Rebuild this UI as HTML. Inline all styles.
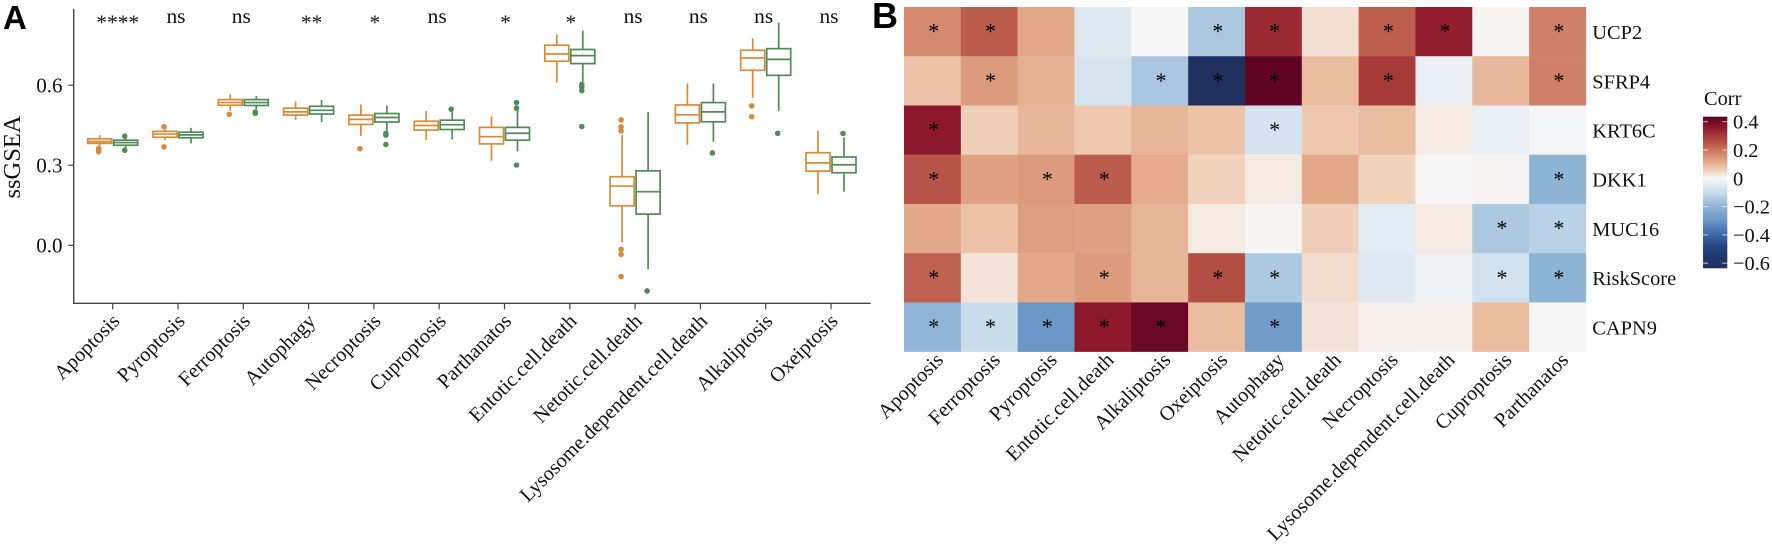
<!DOCTYPE html>
<html lang="en">
<head>
<meta charset="utf-8">
<title>ssGSEA boxplots and correlation heatmap</title>
<style>
html,body{margin:0;padding:0;background:#fff;width:1772px;height:551px;overflow:hidden}
svg{display:block}
text{font-family:"Liberation Serif",serif;fill:#111}
.panel{font-family:"Liberation Sans",sans-serif;font-weight:700;fill:#000}
</style>
</head>
<body>
<svg id="fig" width="1772" height="551" viewBox="0 0 1772 551" xmlns="http://www.w3.org/2000/svg">
<defs><linearGradient id="corrGrad" x1="0" y1="0" x2="0" y2="1"></linearGradient></defs>
<text class="panel" x="3" y="29" font-size="33">A</text>
<text class="panel" x="872" y="28" font-size="36">B</text>
<text transform="translate(20 157) rotate(-90)" text-anchor="middle" font-size="24.5">ssGSEA</text>
<text x="1704" y="105" font-size="20.4">Corr</text>
</svg>
<script>
// Panel A data
const boxCategories = ["Apoptosis","Pyroptosis","Ferroptosis","Autophagy","Necroptosis","Cuproptosis","Parthanatos","Entotic.cell.death","Netotic.cell.death","Lysosome.dependent.cell.death","Alkaliptosis","Oxeiptosis"];
const sigLabels = ["****","ns","ns","**","*","ns","*","*","ns","ns","ns","ns"];
const yTicks = [0, 0.3, 0.6];
const orangeLow = [.372,.394,.504,.470,.410,.394,.317,.610,.011,.377,.553,.191];
const orangeQ1 = [.382,.405,.525,.488,.453,.432,.380,.690,.148,.459,.656,.278];
const orangeMedian = [.389,.417,.535,.500,.472,.449,.407,.717,.222,.489,.702,.309];
const orangeQ3 = [.399,.427,.546,.514,.488,.465,.442,.750,.257,.526,.731,.347];
const orangeHigh = [.413,.434,.566,.539,.528,.503,.483,.790,.413,.606,.776,.430];
const orangeOutliers = [[.363,.357,.351],[.444,.369],[.491],[],[.362],[],[],[],[.470,.444,.429,-.015,-.034,-.117],[],[.523,.482],[]];
const greenLow = [.363,.382,.509,.462,.428,.397,.352,.6125,-.090,.388,.504,.201];
const greenQ1 = [.375,.403,.524,.492,.462,.434,.394,.681,.117,.463,.637,.272];
const greenMedian = [.385,.414,.535,.506,.479,.452,.420,.711,.201,.500,.697,.302];
const greenQ3 = [.394,.424,.546,.521,.494,.469,.442,.734,.279,.535,.737,.331];
const greenHigh = [.404,.440,.559,.545,.524,.500,.506,.805,.499,.606,.835,.404];
const greenOutliers = [[.409,.356],[],[.499,.495],[],[.419,.413,.378],[.510],[.535,.514,.301],[.603,.594,.580,.445],[-.171],[.346],[.420],[.419]];

// Panel B data
const heatGenes = ["UCP2","SFRP4","KRT6C","DKK1","MUC16","RiskScore","CAPN9"];
const heatPathways = ["Apoptosis","Ferroptosis","Pyroptosis","Entotic.cell.death","Alkaliptosis","Oxeiptosis","Autophagy","Netotic.cell.death","Necroptosis","Lysosome.dependent.cell.death","Cuproptosis","Parthanatos"];
const corrValues = [
 [.165,.24,.12,-.05,0,-.15,.33,.035,.235,.35,.005,.18],
 [.08,.14,.105,-.07,-.155,-.636,.425,.09,.30,-.03,.095,.18],
 [.36,.06,.10,.07,.10,.08,-.075,.07,.09,.02,-.03,-.005],
 [.255,.13,.14,.24,.115,.055,.02,.12,.055,0,.005,-.205],
 [.12,.08,.135,.13,.10,.02,.005,.06,-.04,.02,-.15,-.125],
 [.23,.03,.12,.14,.10,.265,-.145,.04,-.05,-.015,-.08,-.205],
 [-.2,-.1,-.3,.36,.41,.09,-.28,.03,.012,.01,.09,0]
];
const corrStars = [
 [1,1,0,0,0,1,1,0,1,1,0,1],
 [0,1,0,0,1,1,1,0,1,0,0,1],
 [1,0,0,0,0,0,1,0,0,0,0,0],
 [1,0,1,1,0,0,0,0,0,0,0,1],
 [0,0,0,0,0,0,0,0,0,0,1,1],
 [1,0,0,1,0,1,1,0,0,0,1,1],
 [1,1,1,1,1,0,1,0,0,0,0,0]
];
const legendTicks = [0.4,0.2,0,-0.2,-0.4,-0.6];
const colorStopValues = [.435,.36,.30,.24,.18,.12,.06,0,-.05,-.1,-.2,-.3,-.4,-.5,-.636];
const colorStopHex = ["#5a0022","#8e182b","#a63a38","#bc5c4c","#d08068","#e3a888","#f0cfb8","#f7f7f7","#dfe9f2","#c8dcec","#8fb4d6","#6a97c5","#3b68a8","#1f3f7c","#1f305e"];

const NS = "http://www.w3.org/2000/svg";
const svg = document.getElementById("fig");
function mk(tag, attrs, parent){
  const el = document.createElementNS(NS, tag);
  for (const k in attrs) el.setAttribute(k, attrs[k]);
  (parent || svg).appendChild(el);
  return el;
}
const ORANGE = "#d68c37", GREEN = "#4f8a57", AXIS = "#444";

// Panel A scales
const axisLeft = 73.7, axisRight = 870.7, axisBottom = 303.3, axisTop = 9;
const xBand = i => 112.7 + i * 65.3;
const yVal = v => 245.3 - v * 266.8;

const panelA = mk("g", {});



const yLine = mk("line", {x1:axisLeft,x2:axisLeft,y1:axisTop,y2:axisBottom+.6,stroke:AXIS,"stroke-width":1.4}, panelA);


const xLine = mk("line", {x1:axisLeft-.6,x2:axisRight,y1:axisBottom,y2:axisBottom,stroke:AXIS,"stroke-width":1.4}, panelA);



yTicks.forEach(t => {
  const tk = mk("line", {x1:axisLeft-5.5,x2:axisLeft,y1:yVal(t),y2:yVal(t),stroke:AXIS,"stroke-width":1.2}, panelA);
  
  
  const lb = mk("text", {x:62.5,y:yVal(t)+7.2,"text-anchor":"end","font-size":21}, panelA);
  
  
  lb.textContent = t.toFixed(1);
});

function drawBox(i, offset, color, low, q1, med, q3, high, outliers, seriesName){
  const cx = xBand(i) + offset, half = 12;
  const g = mk("g", {fill:"none",stroke:color,"stroke-width":1.7}, panelA);
  
  
  mk("line", {x1:cx,x2:cx,y1:yVal(high),y2:yVal(q3)}, g);
  mk("line", {x1:cx,x2:cx,y1:yVal(q1),y2:yVal(low)}, g);
  mk("rect", {x:cx-half,y:yVal(q3),width:half*2,height:yVal(q1)-yVal(q3)}, g);
  mk("line", {x1:cx-half,x2:cx+half,y1:yVal(med),y2:yVal(med)}, g);
  outliers.forEach(o => {
    mk("circle", {cx:cx-1,cy:yVal(o),r:2.8,fill:color,stroke:"none"}, g);
  });
}

boxCategories.forEach((c, i) => {
  drawBox(i, -13, ORANGE, orangeLow[i], orangeQ1[i], orangeMedian[i], orangeQ3[i], orangeHigh[i], orangeOutliers[i], 'low');
  drawBox(i, 13, GREEN, greenLow[i], greenQ1[i], greenMedian[i], greenQ3[i], greenHigh[i], greenOutliers[i], 'high');

  const tk = mk("line", {x1:xBand(i),x2:xBand(i),y1:axisBottom,y2:axisBottom+6,stroke:AXIS,"stroke-width":1.2}, panelA);
  
  

  const ax = xBand(i) + 8, ay = axisBottom + 19;
  const lb = mk("text", {transform:"translate("+ax+" "+ay+") rotate(-45)","text-anchor":"end","font-size":20.4}, panelA);
  
  
  lb.textContent = c;

  const s = sigLabels[i];
  const isNs = s === "ns";
  const dx = isNs ? -2 : (s.length === 1 ? 1 : (s.length === 2 ? 3 : 5));
  const sl = mk("text", {x:xBand(i)+dx,y:isNs?23:29.5,"text-anchor":"middle","font-size":21.4}, panelA);
  
  
  sl.textContent = s;
});

// Panel B scales
const heatLeft = 904, heatTop = 7, cellW = 56.83, cellH = 49.24;
const xCell = c => heatLeft + c * cellW;
const yCell = r => heatTop + r * cellH;
function hexToRgb(h){ return [1,3,5].map(p => parseInt(h.slice(p,p+2),16)); }
function corrColor(v){
  if (v >= colorStopValues[0]) return colorStopHex[0];
  for (let k = 1; k < colorStopValues.length; k++){
    if (v >= colorStopValues[k]){
      const t = (v - colorStopValues[k]) / (colorStopValues[k-1] - colorStopValues[k]);
      const a = hexToRgb(colorStopHex[k]), b = hexToRgb(colorStopHex[k-1]);
      return "rgb(" + a.map((x,n) => Math.round(x + (b[n]-x)*t)).join(",") + ")";
    }
  }
  return colorStopHex[colorStopHex.length-1];
}

const panelB = mk("g", {});



corrValues.forEach((row, r) => {
  row.forEach((v, c) => {
    const cell = mk("rect", {x:xCell(c),y:yCell(r),width:cellW+.2,height:cellH+.2,fill:corrColor(v)}, panelB);
    
    
  });
});
corrStars.forEach((row, r) => {
  row.forEach((s, c) => {
    if (!s) return;
    const st = mk("text", {x:xCell(c)+cellW/2+1.3,y:yCell(r)+cellH/2+7.1,"text-anchor":"middle","font-size":22,style:"fill:#000"}, panelB);
    
    
    st.textContent = "*";
  });
});
heatGenes.forEach((g, r) => {
  const lb = mk("text", {x:1592.3,y:yCell(r)+cellH/2+7.4,"font-size":20.4}, panelB);
  
  
  lb.textContent = g;
});
heatPathways.forEach((p, c) => {
  const ax = xCell(c) + cellW/2 + 12, ay = yCell(7) + 9.5;
  const lb = mk("text", {transform:"translate("+ax+" "+ay+") rotate(-45)","text-anchor":"end","font-size":20.4}, panelB);
  
  
  lb.textContent = p;
});

// Colour legend
const barX = 1703, barW = 24.3, barTop = 116.7, barBottom = 268.3;
const legendY = v => 178.3 - v * 141.5;
const grad = document.getElementById("corrGrad");
colorStopValues.forEach((v, k) => {
  mk("stop", {offset:(legendY(v)-barTop)/(barBottom-barTop),"stop-color":colorStopHex[k]}, grad);
});
const bar = mk("rect", {x:barX,y:barTop,width:barW,height:barBottom-barTop,fill:"url(#corrGrad)"});


legendTicks.forEach(t => {
  const y = legendY(t);
  const l = mk("line", {x1:barX,x2:barX+5,y1:y,y2:y,stroke:"#fff","stroke-opacity":.7,"stroke-width":1});
  
  
  const r = mk("line", {x1:barX+barW-5,x2:barX+barW,y1:y,y2:y,stroke:"#fff","stroke-opacity":.7,"stroke-width":1});
  
  
  const lb = mk("text", {x:1733,y:y+7,"font-size":20.4});
  
  
  lb.textContent = t < 0 ? "\u2212" + Math.abs(t).toFixed(1) : (t === 0 ? "0" : t.toFixed(1));
});
</script>
</body>
</html>
